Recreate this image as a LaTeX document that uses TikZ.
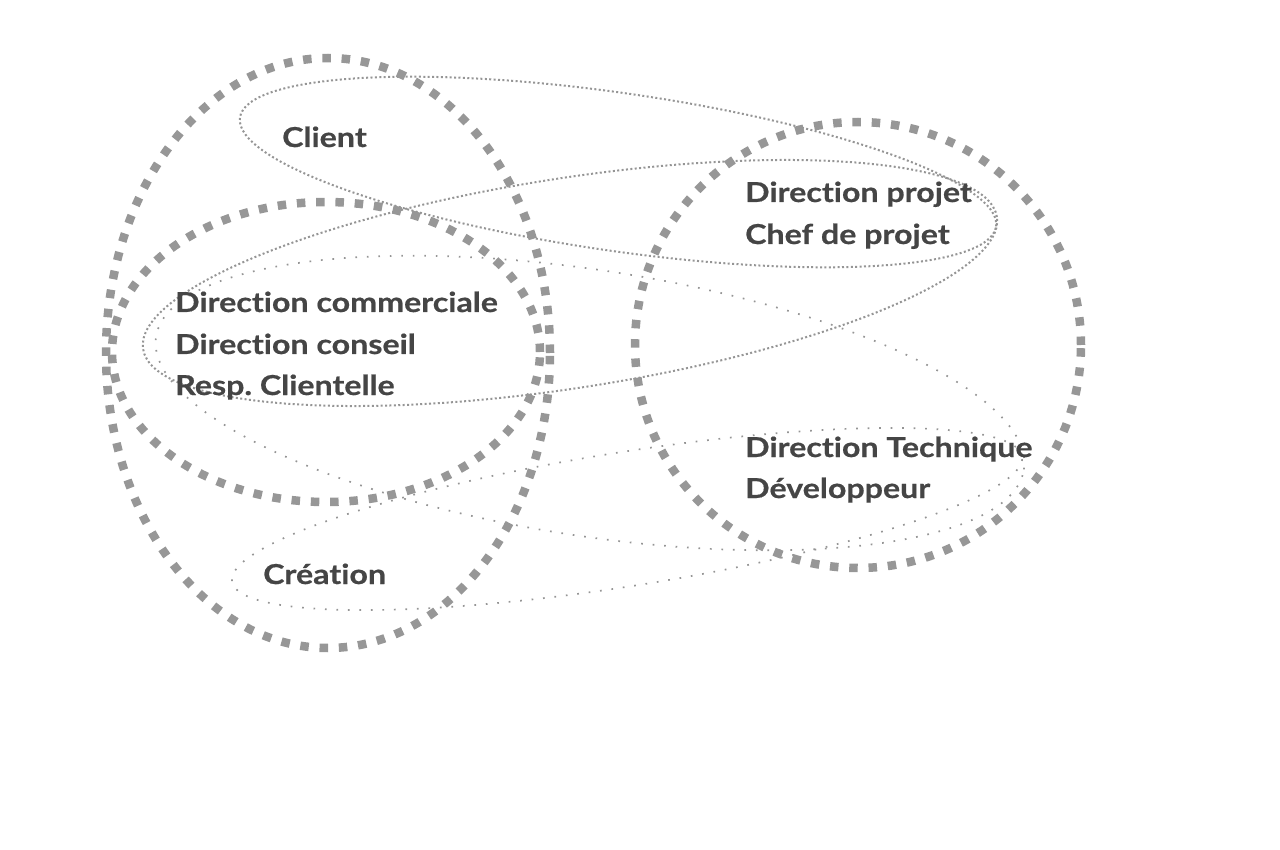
\documentclass[tikz,border=0pt]{standalone}
\usepackage{fontspec}
\newfontfamily\lblfont{Lato}[FakeStretch=1.17, FakeBold=0.6, Ligatures={NoCommon,NoRequired,NoContextual}, RawFeature={-liga;-dlig}]
\definecolor{ringgray}{HTML}{979797}
\definecolor{dotgray}{HTML}{959595}
\definecolor{textgray}{HTML}{454545}
\tikzset{
  ring/.style={draw=ringgray, line width=8.5pt, dash pattern=on 8.5pt off 10.8pt},
  densedot/.style={draw=dotgray, line width=2pt, dash pattern=on 2pt off 2.4pt},
  sparsedot/.style={draw=dotgray, line width=1.7pt, dash pattern=on 1.7pt off 9.8pt},
  lbl/.style={anchor=base west, inner sep=0pt, text=textgray, font=\lblfont\bfseries\frenchspacing\fontsize{27.5}{33}\selectfont}
}
\begin{document}
\begin{tikzpicture}[x=1pt,y=-1pt]
\useasboundingbox (0,0) rectangle (1280,850);
% dotted ellipses
\draw[densedot, rotate around={-8.2:(618,172)}] (618,172) ellipse [x radius=382pt, y radius=79pt];
\draw[densedot, rotate around={8.8:(570,283)}] (570,283) ellipse [x radius=432pt, y radius=105pt];
\draw[sparsedot, rotate around={-8.7:(590,403)}] (590,403) ellipse [x radius=439pt, y radius=133pt];
\draw[sparsedot, rotate around={9:(627,519)}] (627,519) ellipse [x radius=400pt, y radius=67pt];
% thick dashed rings
\draw[ring] (328,353) ellipse [x radius=222pt, y radius=295pt];
\draw[ring] (326,352) ellipse [x radius=214pt, y radius=150pt];
\draw[ring] (858,345) circle [radius=223pt];
% labels
\node[lbl] (client) at (282,147) {Client};
\node[lbl] (dcom) at (175,312) {Direction commerciale};
\node[lbl] (dcons) at (175,354) {Direction conseil};
\node[lbl] (resp) at (175,395) {Resp. Clientelle};
\node[lbl] (dproj) at (745,202) {Direction projet};
\node[lbl] (chef) at (745,244) {Chef de projet};
\node[lbl] (dtech) at (745,457) {Direction Technique};
\node[lbl] (dev) at (745,498) {Développeur};
\node[lbl] (crea) at (263,584) {Création};
\end{tikzpicture}
\end{document}
